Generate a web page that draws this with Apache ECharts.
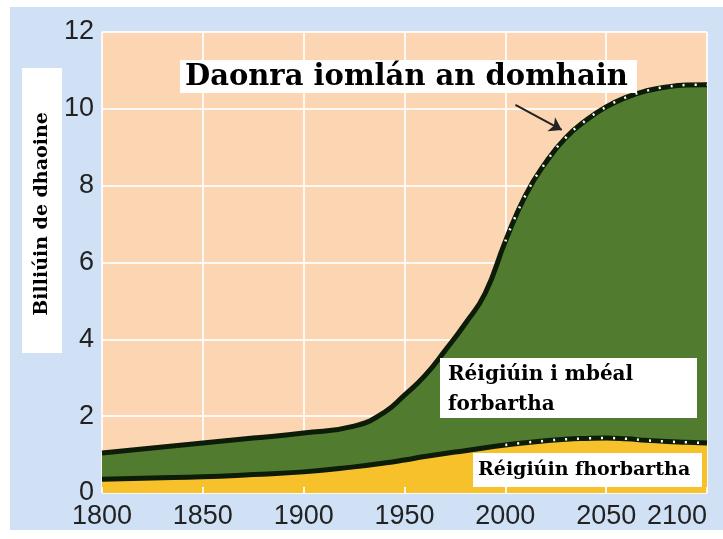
<!DOCTYPE html>
<html>
<head>
<meta charset="utf-8">
<script src="https://cdn.jsdelivr.net/npm/echarts@6/dist/echarts.min.js"></script>
<style>
html,body{margin:0;padding:0;background:#fff;}
#chart{width:723px;height:539px;}
</style>
</head>
<body>
<div id="chart"></div>
<script>
// ---- data ----
var years = [1800, 1825, 1850, 1875, 1900, 1925, 1940, 1950, 1960, 1970, 1980, 1990, 2000, 2010, 2020, 2030, 2040, 2050, 2060, 2070, 2080, 2090, 2100];
var totalPop = [1.04, 1.17, 1.30, 1.43, 1.56, 1.74, 2.10, 2.55, 3.05, 3.70, 4.40, 5.20, 6.55, 7.75, 8.60, 9.25, 9.70, 10.05, 10.30, 10.47, 10.57, 10.62, 10.63];
var developedPop = [0.36, 0.39, 0.42, 0.48, 0.55, 0.68, 0.78, 0.86, 0.95, 1.03, 1.10, 1.18, 1.25, 1.31, 1.36, 1.40, 1.42, 1.43, 1.41, 1.37, 1.34, 1.32, 1.30];
var projectionStart = 2000;
var xTicks = [1800, 1850, 1900, 1950, 2000, 2050, 2100];
var yTicks = [0, 2, 4, 6, 8, 10, 12];
var titleTotal = 'Daonra iomlán an domhain';
var labelDeveloping = ['Réigiúin i mbéal', 'forbartha'];
var labelDeveloped = 'Réigiúin fhorbartha';
var yAxisTitle = 'Billiúin de dhaoine';
var arrowFrom = [2005, 10.1];
var arrowTo = [2028, 9.45];

function pairs(vals) { return years.map(function (y, i) { return [y, vals[i]]; }); }
function projPairs(vals) { return years.map(function (y, i) { return [y, y >= projectionStart ? vals[i] : null]; }); }

var chart = echarts.init(document.getElementById('chart'), null, {renderer: 'canvas'});
var serifBold = '"DejaVu Serif", "Liberation Serif", serif';
var SMOOTH = 0.5;

var option = {
  animation: false,
  backgroundColor: '#d0e1f6',
  grid: {
    left: 102, right: 16, top: 32, bottom: 46,
    show: true, backgroundColor: '#fcd6b2', borderWidth: 0
  },
  xAxis: [{
    type: 'value', min: xTicks[0], max: xTicks[xTicks.length - 1], interval: 50,
    axisLine: {show: false}, axisTick: {show: false},
    splitLine: {show: true, lineStyle: {color: 'rgba(255,255,255,0.85)', width: 2}},
    axisLabel: {
      color: '#222', fontFamily: '"Liberation Sans", Arial, sans-serif', fontSize: 27,
      margin: 10, alignMaxLabel: 'right',
      formatter: function (v) { return String(v); }
    }
  }, {
    type: 'value', min: xTicks[0], max: xTicks[xTicks.length - 1], interval: 50,
    position: 'bottom', z: 10,
    axisLine: {show: false}, splitLine: {show: false}, axisLabel: {show: false},
    axisTick: {show: true, inside: true, length: 6, lineStyle: {color: '#fff8e8', width: 2}}
  }],
  yAxis: {
    type: 'value', min: yTicks[0], max: yTicks[yTicks.length - 1], interval: 2,
    axisLine: {show: false}, axisTick: {show: false},
    splitLine: {show: true, lineStyle: {color: 'rgba(255,255,255,0.85)', width: 2}},
    axisLabel: {color: '#222', fontFamily: '"Liberation Sans", Arial, sans-serif', fontSize: 27, margin: 8}
  },
  series: [{
    name: 'total', type: 'line', data: pairs(totalPop), smooth: SMOOTH,
    showSymbol: false, z: 2,
    lineStyle: {color: '#0c1c08', width: 5},
    areaStyle: {color: '#517c30', opacity: 1},
    markLine: {
      silent: true, symbol: ['none', 'arrow'], symbolSize: 12,
      label: {show: false},
      lineStyle: {color: '#222', width: 2, type: 'solid'},
      data: [[{coord: arrowFrom}, {coord: arrowTo}]]
    }
  }, {
    name: 'developed', type: 'line', data: pairs(developedPop), smooth: SMOOTH,
    showSymbol: false, z: 3,
    lineStyle: {color: '#0c1c08', width: 5},
    areaStyle: {color: '#f6c12a', opacity: 1}
  }, {
    name: 'totalProj', type: 'line', data: projPairs(totalPop), smooth: SMOOTH,
    showSymbol: false, z: 4, connectNulls: false,
    lineStyle: {color: '#ffffff', width: 2.5, type: [2, 10]}
  }, {
    name: 'developedProj', type: 'line', data: projPairs(developedPop), smooth: SMOOTH,
    showSymbol: false, z: 4, connectNulls: false,
    lineStyle: {color: '#ffffff', width: 2.5, type: [2, 10]}
  }],
  graphic: [
    {type: 'rect', shape: {x: 0, y: 0, width: 723, height: 7}, style: {fill: '#fff'}, silent: true},
    {type: 'rect', shape: {x: 0, y: 0, width: 10, height: 539}, style: {fill: '#fff'}, silent: true},
    {type: 'rect', shape: {x: 0, y: 530, width: 723, height: 9}, style: {fill: '#fff'}, silent: true},
    {type: 'rect', shape: {x: 22, y: 68, width: 40, height: 285}, style: {fill: '#fff'}, z: 20},
    {type: 'text', x: 42, y: 214, rotation: Math.PI / 2, z: 21,
      style: {text: yAxisTitle, fill: '#000', font: 'bold 19px ' + serifBold, align: 'center', verticalAlign: 'middle'}},
    {type: 'rect', shape: {x: 180, y: 60, width: 457, height: 33}, style: {fill: '#fff'}, z: 20},
    {type: 'text', x: 185, y: 77, z: 21,
      style: {text: titleTotal, fill: '#000', font: 'bold 29px ' + serifBold, align: 'left', verticalAlign: 'middle'}},
    {type: 'rect', shape: {x: 440, y: 358, width: 257, height: 60}, style: {fill: '#fff'}, z: 20},
    {type: 'text', x: 448, y: 375, z: 21,
      style: {text: labelDeveloping[0], fill: '#000', font: 'bold 20px ' + serifBold, align: 'left', verticalAlign: 'middle'}},
    {type: 'text', x: 448, y: 405, z: 21,
      style: {text: labelDeveloping[1], fill: '#000', font: 'bold 20px ' + serifBold, align: 'left', verticalAlign: 'middle'}},
    {type: 'rect', shape: {x: 473, y: 453, width: 229, height: 34}, style: {fill: '#fff'}, z: 20},
    {type: 'text', x: 478, y: 470, z: 21,
      style: {text: labelDeveloped, fill: '#000', font: 'bold 19px ' + serifBold, align: 'left', verticalAlign: 'middle'}}
  ]
};
chart.setOption(option);
</script>
</body>
</html>
